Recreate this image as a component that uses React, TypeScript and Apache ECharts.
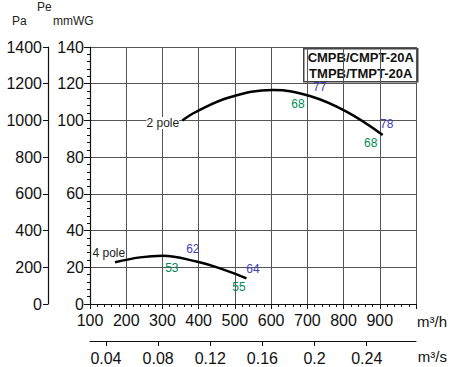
import React, { useEffect, useRef } from "react";
import * as echarts from "echarts";

const pole2Flow = [355, 394, 486, 605, 707, 808, 908];
const pole2Pressure = [100, 104.8, 112.6, 116.6, 113.3, 104.8, 92.1];
const pole4Flow = [169, 238, 301, 394, 459, 532];
const pole4Pressure = [22.7, 25.4, 26.3, 23.1, 19.4, 14.0];

const noteTexts = ["2 pole", "77", "68", "78", "68", "4 pole", "62", "53", "64", "55"];
const noteFlow = [301, 734, 674, 919, 875, 152, 384, 326, 550, 511];
const notePressure = [98.6, 118.3, 109, 98, 87.7, 27.8, 30, 19.6, 19.1, 9.3];
const noteKind = ["k", "b", "g", "b", "g", "k", "b", "g", "b", "g"];

const paTicks = [0, 200, 400, 600, 800, 1000, 1200, 1400];
const m3sTicks = [0.04, 0.08, 0.12, 0.16, 0.2, 0.24];

const FONT = "Liberation Sans, Arial, sans-serif";
const COLORS: Record<string, string> = { k: "#222", b: "#4040b8", g: "#008a55" };

export default function App() {
  const ref = useRef<HTMLDivElement>(null);
  useEffect(() => {
    const chart = echarts.init(ref.current!, null, { renderer: "svg" });
    const labelStyle = { color: "#111", fontSize: 16, fontFamily: FONT };
    chart.setOption({
      animation: false,
      textStyle: { fontFamily: FONT },
      grid: { left: 90, right: 34, top: 47, bottom: 63, containLabel: false },
      xAxis: [
        {
          type: "value",
          min: 100,
          max: 1000,
          interval: 100,
          position: "bottom",
          axisLine: { show: true, onZero: false, lineStyle: { color: "#111", width: 1.2 } },
          axisTick: { show: true, length: 5, lineStyle: { color: "#111" } },
          minorTick: { show: true, splitNumber: 5, length: 3, lineStyle: { color: "#111" } },
          splitLine: { show: true, lineStyle: { color: "#555", width: 1 } },
          axisLabel: { ...labelStyle, margin: 8, customValues: [100, 200, 300, 400, 500, 600, 700, 800, 900] },
        },
        {
          type: "value",
          min: 100,
          max: 1000,
          position: "bottom",
          offset: 37,
          axisLine: { show: true, onZero: false, lineStyle: { color: "#111", width: 1.2 } },
          axisTick: { show: true, length: 5, customValues: m3sTicks.map((v) => v * 3600), lineStyle: { color: "#111" } },
          splitLine: { show: false },
          axisLabel: {
            ...labelStyle,
            margin: 9,
            customValues: m3sTicks.map((v) => v * 3600),
            formatter: (v: number) => String(+(v / 3600).toFixed(2)),
          },
        },
      ],
      yAxis: [
        {
          type: "value",
          min: 0,
          max: 140,
          interval: 20,
          position: "left",
          axisLine: { show: true, lineStyle: { color: "#111", width: 1.2 } },
          axisTick: { show: true, length: 6, lineStyle: { color: "#111" } },
          minorTick: { show: true, splitNumber: 5, length: 3, lineStyle: { color: "#111" } },
          splitLine: { show: true, lineStyle: { color: "#555", width: 1 } },
          axisLabel: { ...labelStyle, margin: 6 },
        },
        {
          type: "value",
          min: 0,
          max: 1400,
          interval: 200,
          position: "left",
          offset: 42,
          axisLine: { show: true, lineStyle: { color: "#111", width: 1.2 } },
          axisTick: { show: true, length: 5, lineStyle: { color: "#111" } },
          splitLine: { show: false },
          axisLabel: { ...labelStyle, margin: 6, customValues: paTicks, formatter: (v: number) => String(v) },
        },
      ],
      graphic: [
        { type: "text", left: 12, top: 15, style: { text: "Pa", fontSize: 12, fontFamily: FONT, fill: "#222" } },
        { type: "text", left: 37, top: 1, style: { text: "Pe", fontSize: 12, fontFamily: FONT, fill: "#222" } },
        { type: "text", left: 53, top: 15, style: { text: "mmWG", fontSize: 12, fontFamily: FONT, fill: "#222" } },
        { type: "text", right: 3, top: 314, style: { text: "m³/h", fontSize: 15, fontFamily: FONT, fill: "#111" } },
        { type: "text", right: 3, top: 349, style: { text: "m³/s", fontSize: 15, fontFamily: FONT, fill: "#111" } },
        {
          type: "group",
          left: 303,
          top: 48,
          children: [
            { type: "rect", shape: { x: 0, y: 0, width: 114, height: 33 }, style: { fill: "#fff", stroke: "#444", lineWidth: 1.5 } },
            { type: "text", x: 57, y: 9, style: { text: "CMPB/CMPT-20A", fontSize: 13, fontWeight: "bold", fontFamily: FONT, fill: "#111", align: "center", verticalAlign: "middle" } },
            { type: "text", x: 57, y: 25, style: { text: "TMPB/TMPT-20A", fontSize: 13, fontWeight: "bold", fontFamily: FONT, fill: "#111", align: "center", verticalAlign: "middle" } },
          ],
        },
      ],
      series: [
        {
          type: "line",
          xAxisIndex: 0,
          yAxisIndex: 0,
          smooth: 0.4,
          symbol: "none",
          lineStyle: { color: "#000", width: 2.5 },
          data: pole2Flow.map((x, i) => [x, pole2Pressure[i]]),
        },
        {
          type: "line",
          xAxisIndex: 0,
          yAxisIndex: 0,
          smooth: 0.4,
          symbol: "none",
          lineStyle: { color: "#000", width: 2.5 },
          data: pole4Flow.map((x, i) => [x, pole4Pressure[i]]),
        },
        {
          type: "scatter",
          xAxisIndex: 0,
          yAxisIndex: 0,
          symbolSize: 1,
          itemStyle: { color: "rgba(0,0,0,0)", opacity: 1 },
          z: 5,
          data: noteTexts.map((t, i) => ({
            value: [noteFlow[i], notePressure[i]],
            name: t,
            label: {
              show: true,
              position: "inside",
              formatter: t,
              fontSize: 12,
              fontFamily: FONT,
              color: COLORS[noteKind[i]],
              textBorderWidth: 0,
              backgroundColor: noteKind[i] === "k" ? "#fff" : "transparent",
            },
          })),
        },
      ],
    });
    return () => chart.dispose();
  }, []);
  return <div ref={ref} style={{ position: "absolute", left: 0, top: 0, width: 450, height: 367 }} />;
}
